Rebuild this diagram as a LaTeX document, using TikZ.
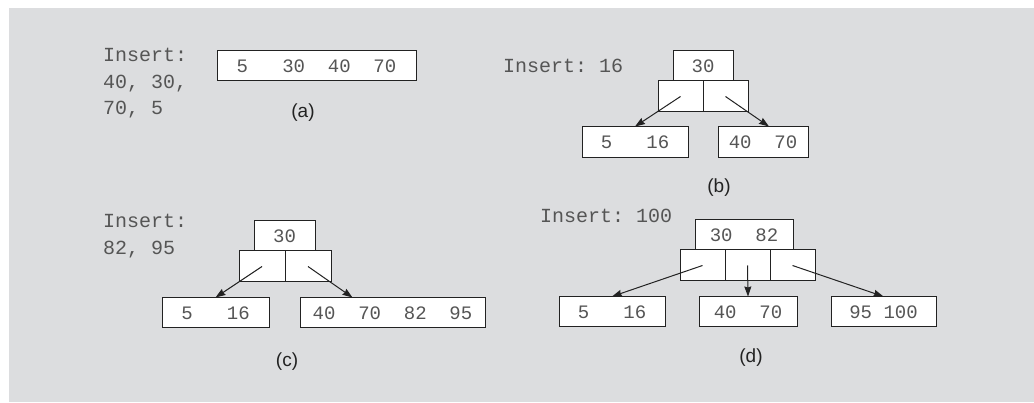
\documentclass[tikz,border=0pt]{standalone}
\usepackage{fontspec}
\setmonofont{Liberation Mono}
\setsansfont{Liberation Sans}
\usetikzlibrary{arrows.meta,positioning}
\definecolor{panel}{RGB}{220,221,223}
\definecolor{ink}{RGB}{34,34,34}
\definecolor{txt}{RGB}{85,85,85}

\begin{document}
\begin{tikzpicture}[x=1pt, y=-1pt,
    key/.style={draw=ink, fill=white, line width=1pt, inner sep=0pt, minimum height=30pt, font=\ttfamily\fontsize{19}{19}\selectfont, text=txt},
    cell/.style={draw=ink, fill=white, line width=1pt, inner sep=0pt, minimum width=45pt, minimum height=31pt},
    note/.style={font=\ttfamily\fontsize{20}{26.5}\selectfont, text=txt, align=left, anchor=base west, inner sep=0pt},
    tag/.style={font=\sffamily\fontsize{19}{19}\selectfont, text=ink},
    arr/.style={-{Stealth[length=10pt,width=7pt,inset=1pt]}, line width=1pt, ink},
]
\useasboundingbox (0,0) rectangle (1034,403);
\fill[panel] (9,8) rectangle (1034,402);

% (a)
\node[note] (la) at (103,115) {Insert:\\40, 30,\\70, 5};
\node[key, minimum width=199pt] (a) at (316.5,66) {5~~~30~~40~~70};
\node[tag] (ta) at (303,113) {(a)};

% (b)
\node[note] (lb) at (503,73) {Insert: 16};
\node[key, minimum width=60pt] (b) at (703,66) {30};
\node[cell] (b1) at (680.5,96.5) {};
\node[cell] (b2) at (725.5,96.5) {};
\node[key, minimum width=106pt, minimum height=31pt] (bl) at (635,142.5) {5~~~16};
\node[key, minimum width=90pt, minimum height=31pt] (br) at (763,142.5) {40~~70};
\node[tag] (tb) at (719,188) {(b)};
\draw[arr] (b1.center) -- (bl.north);
\draw[arr] (b2.center) -- ([xshift=6pt]br.north);

% (c)
\node[note] (lc) at (103,254.5) {Insert:\\82, 95};
\node[key, minimum width=61pt] (c) at (284.5,236) {30};
\node[cell, minimum width=46pt] (c1) at (262,266.5) {};
\node[cell, minimum width=46pt] (c2) at (308,266.5) {};
\node[key, minimum width=107pt] (cl) at (215.5,313) {5~~~16};
\node[key, minimum width=185pt] (cr) at (392.5,313) {40~~70~~82~~95};
\node[tag] (tc) at (287,362) {(c)};
\draw[arr] (c1.center) -- (cl.north);
\draw[arr] (c2.center) -- ([xshift=53pt]cr.north west);

% (d)
\node[note] (ld) at (540,223) {Insert: 100};
\node[key, minimum width=98pt] (d) at (744,235) {30~~82};
\node[cell] (d1) at (702.5,265.5) {};
\node[cell] (d2) at (747.5,265.5) {};
\node[cell] (d3) at (792.5,265.5) {};
\node[key, minimum width=106pt] (dl) at (612,312) {5~~~16};
\node[key, minimum width=98pt] (dm) at (748,312) {40~~70};
\node[key, minimum width=105pt] (dr) at (883.5,312) {95~100};
\node[tag] (td) at (751,358) {(d)};
\draw[arr] (d1.center) -- (dl.north);
\draw[arr] (d2.center) -- (dm.north);
\draw[arr] (d3.center) -- (dr.north);
\end{tikzpicture}
\end{document}
